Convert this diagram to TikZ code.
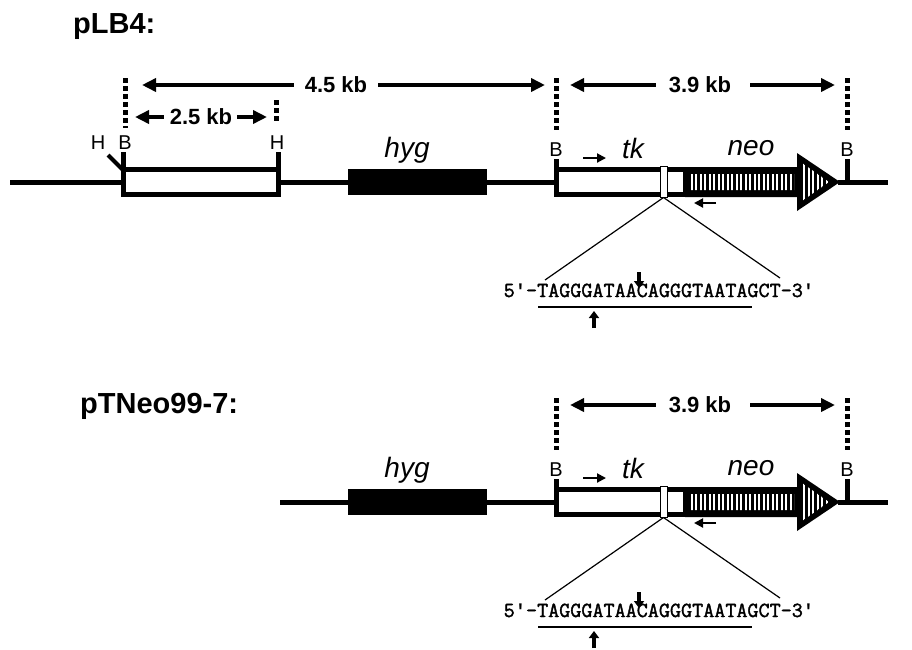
\documentclass[tikz,border=0pt]{standalone}
\usepackage{fontspec}
\setmainfont{Liberation Sans}
\newfontfamily\seqfont[FakeBold=1.6]{Latin Modern Mono}
\newfontfamily\primefont{Liberation Mono}
\newcommand\pr{{\fontsize{18.8}{18.8}\selectfont\primefont\bfseries ′}}
\usetikzlibrary{arrows.meta}
\begin{document}
\begin{tikzpicture}[x=1pt,y=-1pt,
  dna/.style={line width=5pt},
  dots/.style={line width=5pt, dash pattern=on 4.5pt off 3.5pt},
  dim/.style={line width=4.5pt, -{Triangle[length=14pt,width=13pt]}},
  lbl/.style={font=\fontsize{20}{20}\selectfont, inner sep=0pt},
  gene/.style={font=\fontsize{28}{28}\selectfont\itshape, inner sep=0pt},
  kb/.style={font=\fontsize{22}{22}\selectfont\bfseries, inner sep=0pt},
  title/.style={font=\fontsize{29}{29}\selectfont\bfseries, inner sep=0pt, anchor=base west},
  prim/.style={line width=2pt, -{Triangle[length=9pt,width=9pt]}},
  cutarrow/.style={line width=3.5pt, -{Triangle[length=7pt,width=10pt]}},
  seq/.style={font=\fontsize{21.5}{21.5}\selectfont\seqfont, inner sep=0pt, anchor=base west},
  thin/.style={line width=1.2pt},
]
\useasboundingbox (0,0) rectangle (912,649);

% ---------- titles ----------
\node[title] (t1) at (73,33) {pLB4:};
\node[title] (t2) at (80,413) {pTNeo99-7:};

% ---------- cassette (tk-neo), common to both ----------
\foreach \dy/\p in {0/a,320/b} {
\begin{scope}[yshift=-\dy pt]
  % dotted boundaries
  \coordinate (\p d1a) at (556,78); \coordinate (\p d1b) at (556,130);
  \coordinate (\p d2a) at (847,78); \coordinate (\p d2b) at (847,130);
  \draw[dots] (\p d1a) -- (\p d1b);
  \draw[dots] (\p d2a) -- (\p d2b);
  % 3.9 kb
  \node[kb] (\p k39) at (700,85) {3.9 kb};
  \coordinate (\p k39l) at (570,85); \coordinate (\p k39r) at (835,85);
  \draw[dim] (\p k39.west) ++(-13,0) -- (\p k39l);
  \draw[dim] (\p k39.east) ++(19,0) -- (\p k39r);
  % hyg
  \node[gene] (\p hyg) at (407,150) {hyg};
  \fill (348,169) rectangle (487,195);
  \coordinate (\p hygR) at (487,182);
  \coordinate (\p bL) at (556,182);
  \draw[dna] (\p hygR) -- (\p bL);
  % B labels and ticks
  \node[lbl] (\p B1) at (556,150) {B};
  \node[lbl] (\p B2) at (847,150) {B};
  \coordinate (\p B1t) at (556,159); \coordinate (\p B1b) at (556,170);
  \coordinate (\p B2t) at (847,159); \coordinate (\p B2b) at (847,182);
  \draw[dna] (\p B1t) -- (\p B1b);
  \draw[dna] (\p B2t) -- (\p B2b);
  % right line
  \coordinate (\p tip) at (838,182); \coordinate (\p end) at (888,182);
  \draw[dna] (\p tip) -- (\p end);
  % tk box
  \draw[dna, fill=white] (556,169.5) rectangle (685,194.5);
  % neo arrow
  \fill (685,167) -- (797,167) -- (797,153) -- (840,182) -- (797,211) -- (797,197) -- (685,197) -- cycle;
  \begin{scope}
    \clip (690,174) rectangle (794,190)
          (802,163) -- (829,182) -- (802,201) -- cycle;
    \foreach \i in {0,...,31} \fill[white] ({690.5+\i*4.5},150) rectangle ++(2.2,60);
  \end{scope}
  % site marker
  \draw[line width=1pt, fill=white] (660,166.5) rectangle (667,197.5);
  \coordinate (\p site) at (663.5,197.5);
  % labels
  \node[gene] (\p tk) at (633,148) {tk};
  \node[gene] (\p neo) at (751,148) {neo};
  % primers
  \coordinate (\p p1a) at (583,158); \coordinate (\p p1b) at (606,158);
  \coordinate (\p p2a) at (716,203); \coordinate (\p p2b) at (694,203);
  \draw[prim] (\p p1a) -- (\p p1b);
  \draw[prim] (\p p2a) -- (\p p2b);
  % sequence
  \node[seq] (\p seq) at (503.5,297) {5\pr-TAGGGATAACAGGGTAATAGCT-3\pr};
  \coordinate (\p zl) at (545,280); \coordinate (\p zr) at (780,278);
  \draw[thin] (\p site) -- (\p zl);
  \draw[thin] (\p site) -- (\p zr);
  \coordinate (\p ul) at (538,307); \coordinate (\p ur) at (752,307);
  \draw[line width=2pt] (\p ul) -- (\p ur);
  \coordinate (\p c1a) at (639,272); \coordinate (\p c1b) at (639,288);
  \coordinate (\p c2a) at (594,328); \coordinate (\p c2b) at (594,311);
  \draw[cutarrow] (\p c1a) -- (\p c1b);
  \draw[cutarrow] (\p c2a) -- (\p c2b);
\end{scope}
}

% ---------- top-only parts ----------
\coordinate (l0) at (10,182); \coordinate (l1) at (123,182);
\draw[dna] (l0) -- (l1);
\draw[dna, fill=white] (123,169.5) rectangle (278,194.5);
\coordinate (l2) at (278,182); \coordinate (l3) at (348,182);
\draw[dna] (l2) -- (l3);
\coordinate (Ht) at (108,155); \coordinate (Hb) at (123,170);
\draw[line width=4pt] (Ht) -- (Hb);
\coordinate (Bt) at (123,152); \coordinate (Bb) at (123,170);
\draw[dna] (Bt) -- (Bb);
\coordinate (H2t) at (278,152); \coordinate (H2b) at (278,170);
\draw[dna] (H2t) -- (H2b);
\node[lbl] (H1) at (98,143) {H};
\node[lbl] (B0) at (125,143) {B};
\node[lbl] (H2) at (277,143) {H};
\coordinate (dA) at (125,78); \coordinate (dB) at (125,128);
\draw[dots] (dA) -- (dB);
\coordinate (dC) at (276,100); \coordinate (dD) at (276,124);
\draw[dots] (dC) -- (dD);
% 4.5 kb
\node[kb] (k45) at (336,85) {4.5 kb};
\coordinate (k45l) at (142,85); \coordinate (k45r) at (545,85);
\draw[dim] (k45.west) ++(-11,0) -- (k45l);
\draw[dim] (k45.east) ++(11,0) -- (k45r);
% 2.5 kb
\node[kb] (k25) at (201,117) {2.5 kb};
\coordinate (k25l) at (135,117); \coordinate (k25r) at (267,117);
\draw[dim] (k25.west) ++(-6,0) -- (k25l);
\draw[dim] (k25.east) ++(5,0) -- (k25r);

% ---------- bottom-only parts ----------
\coordinate (m0) at (280,502); \coordinate (m1) at (348,502);
\draw[dna] (m0) -- (m1);
\end{tikzpicture}
\end{document}
